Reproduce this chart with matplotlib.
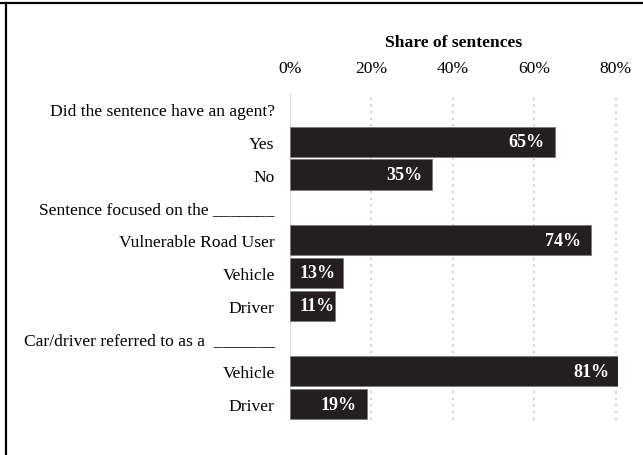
import matplotlib
matplotlib.use("Agg")
import matplotlib.pyplot as plt
from matplotlib.lines import Line2D

plt.rcParams['font.family'] = ['Liberation Serif', 'DejaVu Serif']

row_labels = [
    "Did the sentence have an agent?",
    "Yes",
    "No",
    "Sentence focused on the _______",
    "Vulnerable Road User",
    "Vehicle",
    "Driver",
    "Car/driver referred to as a  _______",
    "Vehicle",
    "Driver",
]
# None = header row (no bar)
values = [None, 65, 35, None, 74, 13, 11, None, 81, 19]
x_ticks = [0, 20, 40, 60, 80]
x_tick_labels = ["0%", "20%", "40%", "60%", "80%"]

FS = 12.6

fig = plt.figure(figsize=(6.43, 4.56), dpi=100)
ax = fig.add_axes([290/643, 1 - 421.4/456, (617.6 - 290)/643, (421.4 - 93.6)/456])

bar_color = "#231f20"
ypos = list(range(len(row_labels)))
for y, v in zip(ypos, values):
    if v is None:
        continue
    ax.barh(y, v, height=0.92, color=bar_color, edgecolor="#7a7a7a", linewidth=0.6, zorder=3)
    if v >= 15:
        ax.annotate(f"{v}%", xy=(v, y), xytext=(-7.5, 0), textcoords="offset points",
                    ha="right", va="center", color="white", fontweight="bold",
                    fontsize=13, zorder=4, annotation_clip=False)
    else:
        ax.annotate(f"{v}%", xy=(0, y), xytext=(6.5, 0), textcoords="offset points",
                    ha="left", va="center", color="white", fontweight="bold",
                    fontsize=13, zorder=4)

ax.set_xlim(0, 80.5)
ax.set_ylim(len(row_labels) - 0.5, -0.5)
ax.set_yticks(ypos)
ax.set_yticklabels(row_labels, fontsize=FS)
ax.set_xticks(x_ticks)
ax.set_xticklabels(x_tick_labels, fontsize=FS)
ax.xaxis.tick_top()
ax.xaxis.set_label_position("top")
ax.set_xlabel("Share of sentences", fontsize=FS, fontweight="bold", labelpad=10)
ax.tick_params(axis="x", length=0, pad=12)
ax.tick_params(axis="y", length=0, pad=11)
for s in ax.spines.values():
    s.set_visible(False)

for xt in x_ticks[1:]:
    ax.axvline(xt, color="#cccccc", linestyle=(0, (1.5, 2.5)), linewidth=1.2, zorder=1)
ax.axvline(0, color="#d9d9d9", linewidth=1.5, zorder=2)

# figure border (top and left)
fig.add_artist(Line2D([0, 1], [1 - 4/456, 1 - 4/456], transform=fig.transFigure, color="black", linewidth=1.6))
fig.add_artist(Line2D([5.5/643, 5.5/643], [0, 1 - 4/456], transform=fig.transFigure, color="black", linewidth=1.6))

fig.savefig("out.png", dpi=100)
